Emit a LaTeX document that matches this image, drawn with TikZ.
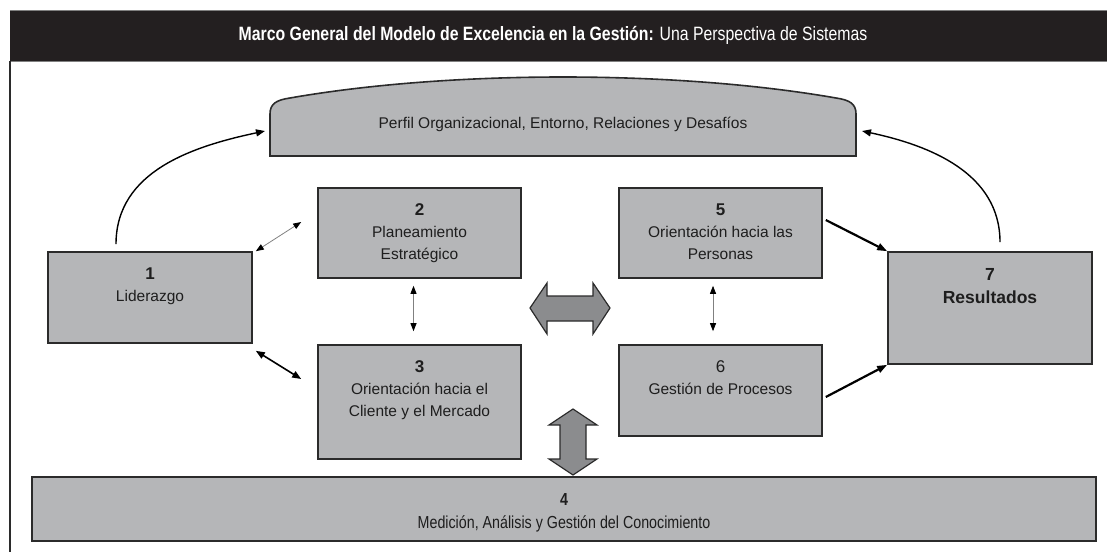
\documentclass[tikz,border=0pt]{standalone}
\usepackage{fontspec}
\setmainfont{Liberation Sans}
\newfontfamily\narrowfont{Liberation Sans}[FakeStretch=0.82]
\usetikzlibrary{arrows.meta, positioning}
\definecolor{boxgray}{HTML}{B5B6B8}
\definecolor{edgegray}{HTML}{2B2B2B}
\definecolor{blockgray}{HTML}{8B8C8E}
\definecolor{titleblack}{HTML}{231F20}
\definecolor{inkgray}{HTML}{1E1E1E}
\newcommand{\boxnum}[1]{{\bfseries\fontsize{17}{22}\selectfont #1}}

\begin{document}
\begin{tikzpicture}[x=1pt, y=-1pt,
		box/.style={draw=edgegray, line width=1.6pt, fill=boxgray, inner sep=0pt},
		boxtext/.style={align=center, inner sep=0pt, anchor=north, text=inkgray,
			font=\fontsize{15.5}{22}\selectfont},
		curvearrow/.style={line width=1.4pt, -{Triangle[length=9pt,width=7pt]}},
		thinlink/.style={gray, line width=0.8pt,
			{Triangle[length=8pt,width=6pt,color=black]}-{Triangle[length=8pt,width=6pt,color=black]}},
		thicklink/.style={line width=1.6pt,
			{Triangle[length=9pt,width=7pt]}-{Triangle[length=9pt,width=7pt]}},
		feedarrow/.style={line width=2.2pt, -{Triangle[length=10pt,width=7pt]}},
		blockarrow/.style={draw=edgegray, line width=1.2pt, fill=blockgray}]

	\useasboundingbox (0,0) rectangle (1107,552);

	% frame and title
	\fill[titleblack] (10,10) rectangle (1107,61);
	\draw[gray, line width=1pt] (10,10) -- (1107,10) (10,61) -- (1107,61);
	\draw[edgegray, line width=1.8pt] (10,61) -- (10,552);
	\node[anchor=base, text=white, inner sep=0pt, font=\narrowfont\fontsize{19.3}{22}\selectfont] (title) at (553,40)
		{\textbf{Marco General del Modelo de Excelencia en la Gestión:} Una Perspectiva de Sistemas};

	% perfil (arch)
	\draw[box] (270,156) -- (270,114) .. controls (270,104) and (276,100) .. (290,98)
		.. controls (450,70) and (676,70) .. (836,98)
		.. controls (850,100) and (856,104) .. (856,114) -- (856,156) -- cycle;
	\node[anchor=base, inner sep=0pt, text=inkgray, font=\fontsize{15.5}{20}\selectfont] (perfil) at (563,128)
		{Perfil Organizacional, Entorno, Relaciones y Desafíos};
	\coordinate (perfilL) at (265,131);
	\coordinate (perfilR) at (862,131);

	% boxes
	\node[box, minimum width=204, minimum height=91] (lid) at (150,297.5) {};
	\node[box, minimum width=203, minimum height=90] (plan) at (419.5,233) {};
	\node[box, minimum width=203, minimum height=114] (clie) at (419.5,402) {};
	\node[box, minimum width=203, minimum height=90] (pers) at (720.5,233) {};
	\node[box, minimum width=203, minimum height=91] (proc) at (720.5,390.5) {};
	\node[box, minimum width=204, minimum height=112] (res) at (990,308) {};
	\node[box, minimum width=1064, minimum height=64] (med) at (564,509) {};

	\node[boxtext] (lidtext) at ([yshift=-16.5pt]lid.north) {\boxnum{1}\\Liderazgo};
	\node[boxtext] (plantext) at ([yshift=-16.5pt]plan.north) {\boxnum{2}\\Planeamiento\\Estratégico};
	\node[boxtext] (clietext) at ([yshift=-16.5pt]clie.north) {\boxnum{3}\\Orientación hacia el\\Cliente y el Mercado};
	\node[boxtext] (perstext) at ([yshift=-16.5pt]pers.north) {\boxnum{5}\\Orientación hacia las\\Personas};
	\node[boxtext] (proctext) at ([yshift=-16.5pt]proc.north) {{\fontsize{17}{22}\selectfont 6}\\Gestión de Procesos};
	\node[boxtext, font=\bfseries\fontsize{17.5}{23}\selectfont] (restext) at ([yshift=-16.7pt]res.north) {7\\Resultados};
	\node[boxtext, font=\narrowfont\fontsize{17.4}{23}\selectfont] (medtext) at ([yshift=-17pt]med.north) {\textbf{4}\\Medición, Análisis y Gestión del Conocimiento};

	% links
	\draw[curvearrow] ([xshift=-34pt,yshift=7pt]lid.north) to[out=90, in=192] (perfilL);
	\draw[curvearrow] ([xshift=10pt,yshift=9pt]res.north) to[out=90, in=-12] (perfilR);

	\draw[thinlink] ([xshift=3pt]lid.north east) -- ([xshift=-16pt,yshift=11pt]plan.west);
	\draw[thicklink] ([xshift=3pt,yshift=-7pt]lid.south east) -- ([xshift=-16pt,yshift=23pt]clie.west);
	\draw[thinlink] ([xshift=-6pt,yshift=-7pt]plan.south) -- ([xshift=-6pt,yshift=13pt]clie.north);
	\draw[thinlink] ([xshift=-7.5pt,yshift=-7pt]pers.south) -- ([xshift=-7.5pt,yshift=13pt]proc.north);

	\draw[feedarrow] ([xshift=3pt,yshift=13pt]pers.east) -- (res.north west);
	\draw[feedarrow] ([xshift=3pt,yshift=-6.5pt]proc.east) -- (res.south west);

	% block arrows
	\draw[blockarrow] (530,308) -- (547,283) -- (547,296) -- (593,296) -- (593,283) -- (610,308)
		-- (593,334) -- (593,321) -- (547,321) -- (547,334) -- cycle;
	\draw[blockarrow] (573,409) -- (597,425) -- (586,425) -- (586,459) -- (597,459) -- (573,475)
		-- (549,459) -- (560,459) -- (560,425) -- (549,425) -- cycle;

\end{tikzpicture}
\end{document}
